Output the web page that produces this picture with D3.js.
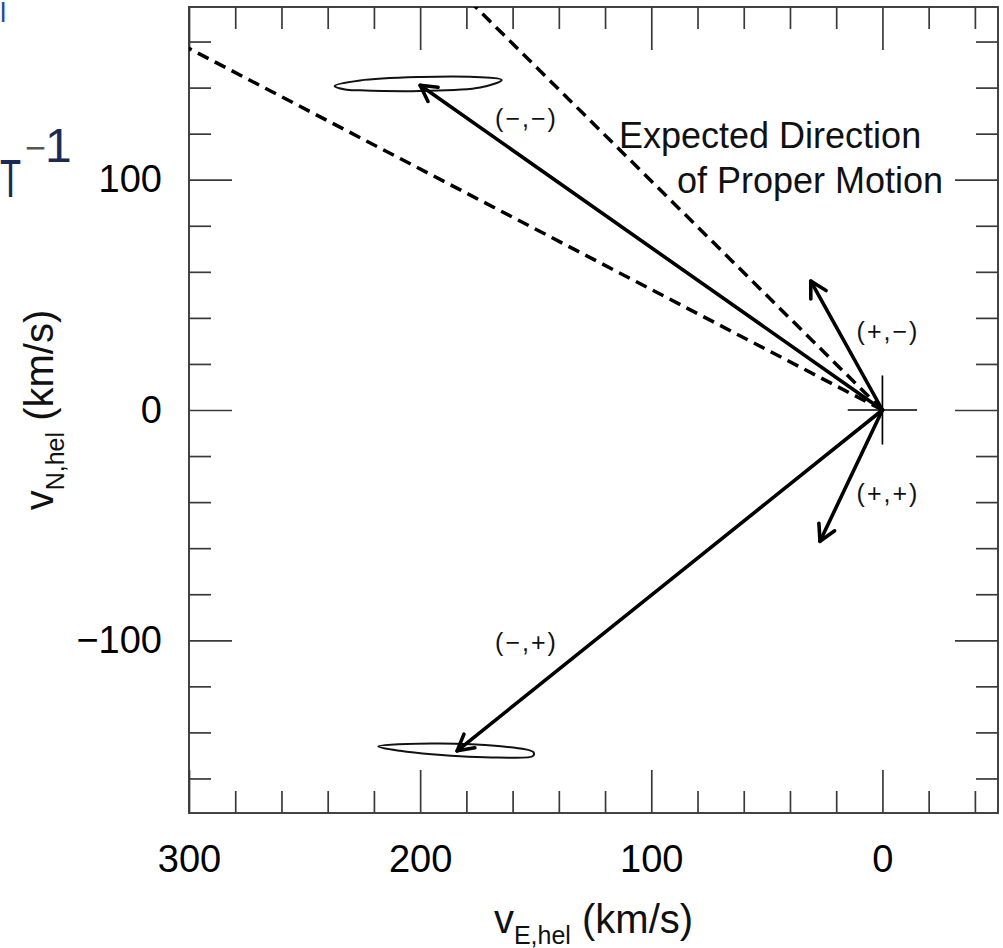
<!DOCTYPE html>
<html><head><meta charset="utf-8">
<script src="https://cdn.jsdelivr.net/npm/d3@7"></script>
<style>
body{margin:0;background:#fff}
svg text{font-family:"Liberation Sans", Arial, Helvetica, sans-serif}
</style>
</head><body>
<svg id="c" width="1003" height="948"></svg>
<script>
// ---------- data ----------
const arrowLabels = ["(\u2212,\u2212)", "(\u2212,+)", "(+,\u2212)", "(+,+)"];
const arrowVE = [200, 184, 31, 27];        // v_E,hel tips (km/s)
const arrowVN = [141, -148, 56, -57];      // v_N,hel tips (km/s)

const expectedVE = [300, 176];             // dashed "expected direction" lines
const expectedVN = [157, 175];

const contourTopVE = [237, 226, 200, 178.5, 164.7, 174, 200, 226, 232.5];
const contourTopVN = [140.7, 143.1, 144.6, 144.7, 143.3, 140.0, 138.5, 138.8, 139.2];
const contourBotVE = [218.1, 195, 166.3, 151.1, 151.1, 166.3, 195, 208.7];
const contourBotVN = [-146.1, -144.8, -145.9, -148.5, -150.2, -150.9, -149.5, -148.0];

const xMajorTicks = [300, 200, 100, 0];
const xMinorTicks = [280, 260, 240, 220, 180, 160, 140, 120, 80, 60, 40, 20, -20, -40];
const yMajorTicks = [-100, 0, 100];
const yMinorTicks = [-160, -140, -120, -80, -60, -40, -20, 20, 40, 60, 80, 120, 140, 160];
const crossHalf = 15;

// ---------- layout ----------
const svg = d3.select("#c");
const L = 189, R = 998, T = 7, B = 813;
const x = d3.scaleLinear().domain([300, -50]).range([L, R]);
const y = d3.scaleLinear().domain([-175, 175]).range([B, T]);
const frameCol = "#3a3a3a";

svg.append("defs").append("clipPath").attr("id", "plotclip")
  .append("rect").attr("x", L).attr("y", T).attr("width", R - L).attr("height", B - T);

function styleAxis(g) {
  g.select(".domain").remove();
  g.selectAll(".tick line").attr("stroke", frameCol).attr("stroke-width", 1.7);
}
const tickFont = 38;
const fmt = d => d < 0 ? "\u2212" + Math.abs(d) : String(d);
svg.append("g").attr("transform", `translate(0,${B})`)
  .call(d3.axisBottom(x).tickValues(xMajorTicks).tickSize(-43).tickPadding(32).tickFormat(fmt))
  .call(styleAxis)
  .call(g => g.selectAll("text").attr("font-size", tickFont).attr("fill", "#000")
      .attr("font-family", "Liberation Sans, Arial, sans-serif"));
svg.append("g").attr("transform", `translate(0,${B})`)
  .call(d3.axisBottom(x).tickValues(xMinorTicks).tickSize(-22).tickFormat(""))
  .call(styleAxis);
svg.append("g").attr("transform", `translate(0,${T})`)
  .call(d3.axisTop(x).tickValues(xMajorTicks).tickSize(-43).tickFormat(""))
  .call(styleAxis);
svg.append("g").attr("transform", `translate(0,${T})`)
  .call(d3.axisTop(x).tickValues(xMinorTicks).tickSize(-22).tickFormat(""))
  .call(styleAxis);
svg.append("g").attr("transform", `translate(${L},0)`)
  .call(d3.axisLeft(y).tickValues(yMajorTicks).tickSize(-43).tickPadding(27).tickFormat(fmt))
  .call(styleAxis)
  .call(g => g.selectAll("text").attr("font-size", tickFont).attr("fill", "#000")
      .attr("font-family", "Liberation Sans, Arial, sans-serif"));
svg.append("g").attr("transform", `translate(${L},0)`)
  .call(d3.axisLeft(y).tickValues(yMinorTicks).tickSize(-22).tickFormat(""))
  .call(styleAxis);
svg.append("g").attr("transform", `translate(${R},0)`)
  .call(d3.axisRight(y).tickValues(yMajorTicks).tickSize(-43).tickFormat(""))
  .call(styleAxis);
svg.append("g").attr("transform", `translate(${R},0)`)
  .call(d3.axisRight(y).tickValues(yMinorTicks).tickSize(-22).tickFormat(""))
  .call(styleAxis);

svg.append("rect").attr("x", L).attr("y", T).attr("width", R - L).attr("height", B - T)
  .attr("fill", "none").attr("stroke", frameCol).attr("stroke-width", 1.9);

const plot = svg.append("g").attr("clip-path", "url(#plotclip)");

// dashed expected-direction lines
expectedVE.forEach((ve, i) => {
  const vn = expectedVN[i];
  plot.append("line")
    .attr("x1", x(0)).attr("y1", y(0))
    .attr("x2", x(ve * 1.15)).attr("y2", y(vn * 1.15))
    .attr("stroke", "#000").attr("stroke-width", 3.5).attr("stroke-dasharray", "12,7");
});

// error contours
const contourLine = d3.line().x(d => x(d[0])).y(d => y(d[1])).curve(d3.curveCatmullRomClosed.alpha(0.5));
[[contourTopVE, contourTopVN], [contourBotVE, contourBotVN]].forEach(([ve, vn]) => {
  plot.append("path").attr("d", contourLine(ve.map((v, i) => [v, vn[i]])))
    .attr("fill", "none").attr("stroke", "#111").attr("stroke-width", 2);
});

// crosshair at origin
plot.append("line").attr("x1", x(-crossHalf)).attr("x2", x(crossHalf)).attr("y1", y(0)).attr("y2", y(0))
  .attr("stroke", "#000").attr("stroke-width", 1.7);
plot.append("line").attr("x1", x(0)).attr("x2", x(0)).attr("y1", y(-crossHalf)).attr("y2", y(crossHalf))
  .attr("stroke", "#000").attr("stroke-width", 1.7);

// arrows
const headLen = 18, headAng = 29 * Math.PI / 180;
arrowVE.forEach((ve, i) => {
  const vn = arrowVN[i];
  const x0 = x(0), y0 = y(0), x1 = x(ve), y1 = y(vn);
  plot.append("line").attr("x1", x0).attr("y1", y0).attr("x2", x1).attr("y2", y1)
    .attr("stroke", "#000").attr("stroke-width", 3.6).attr("stroke-linecap", "round");
  const back = Math.atan2(y0 - y1, x0 - x1);
  const p = d3.path();
  p.moveTo(x1 + headLen * Math.cos(back + headAng), y1 + headLen * Math.sin(back + headAng));
  p.lineTo(x1, y1);
  p.lineTo(x1 + headLen * Math.cos(back - headAng), y1 + headLen * Math.sin(back - headAng));
  plot.append("path").attr("d", p.toString()).attr("fill", "none")
    .attr("stroke", "#000").attr("stroke-width", 3.6).attr("stroke-linecap", "round").attr("stroke-linejoin", "round");
});

// arrow labels (anchors in data units)
const labelPos = [[154, 122.7], [154, -104.8], [-2.4, 30.3], [-2.4, -40]];
arrowLabels.forEach((t, i) => {
  svg.append("text").attr("x", x(labelPos[i][0])).attr("y", y(labelPos[i][1]))
    .attr("text-anchor", "middle").attr("font-size", 25).attr("letter-spacing", 2)
    .attr("fill", "#111").text(t);
});

// annotation
svg.append("text").attr("x", 619).attr("y", 148).attr("font-size", 36).attr("fill", "#111")
  .text("Expected Direction");
svg.append("text").attr("x", 677).attr("y", 193).attr("font-size", 36).attr("fill", "#111")
  .text("of Proper Motion");

// axis titles
const xt = svg.append("text").attr("x", (L + R) / 2).attr("y", 933).attr("text-anchor", "middle")
  .attr("font-size", 40).attr("fill", "#111");
xt.append("tspan").text("v");
xt.append("tspan").attr("font-size", 25).attr("dy", 11).text("E,hel");
xt.append("tspan").attr("dy", -11).text(" (km/s)");

const yt = svg.append("text").attr("transform", `translate(53,${(T + B) / 2}) rotate(-90)`).attr("text-anchor", "middle")
  .attr("font-size", 40).attr("fill", "#111");
yt.append("tspan").text("v");
yt.append("tspan").attr("font-size", 25).attr("dy", 11).text("N,hel");
yt.append("tspan").attr("dy", -11).text(" (km/s)");

// cropped document remnants at the left edge
svg.append("text").attr("x", 0).attr("y", 22).attr("font-family", "Liberation Serif, serif")
  .attr("font-size", 28).attr("fill", "#1f4e9a").text("l");
svg.append("text").attr("transform", "translate(0,197) scale(0.65,1)").attr("font-family", "Liberation Serif, serif")
  .attr("font-size", 53).attr("fill", "#1b2a55").text("T");
svg.append("text").attr("x", 25).attr("y", 160).attr("font-family", "Liberation Serif, serif")
  .attr("font-size", 36).attr("fill", "#555").text("\u2212");
svg.append("text").attr("x", 45).attr("y", 162).attr("font-family", "Liberation Serif, serif")
  .attr("font-size", 48).attr("fill", "#1b2a55").text("1");
</script>
</body></html>
